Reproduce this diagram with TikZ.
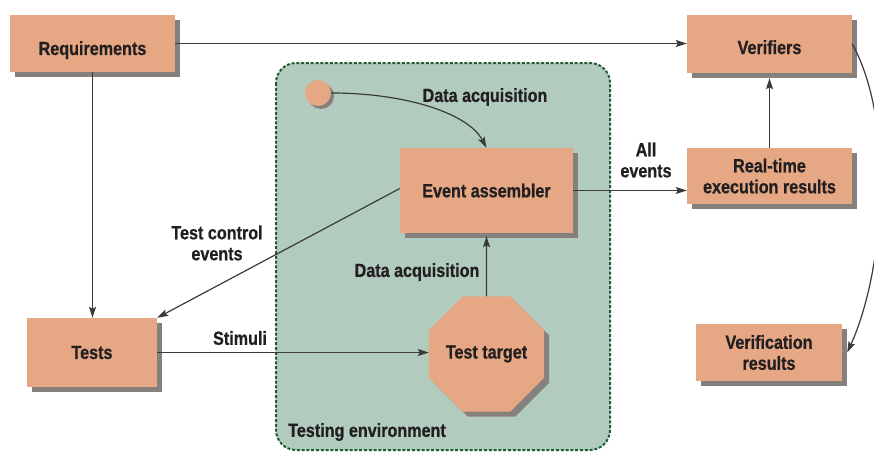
\documentclass[tikz,border=0pt]{standalone}
\usepackage{fontspec}
\setmainfont{Liberation Sans}[FakeStretch=0.85, FakeBold=0.7]
\usetikzlibrary{shapes.geometric,shadows,arrows.meta}

\definecolor{boxfill}{HTML}{E5A784}
\definecolor{envfill}{HTML}{B1CCBE}
\definecolor{envline}{HTML}{1F5C34}
\definecolor{shade}{HTML}{86807C}
\definecolor{ink}{HTML}{231F20}
\definecolor{wire}{HTML}{3A3A3A}

\newcommand{\lblfont}{\fontsize{19}{21}\selectfont\bfseries}

\tikzset{
  shadowed/.style={drop shadow={shadow xshift=5pt, shadow yshift=-5pt, fill=shade, opacity=1}},
  box/.style={rectangle, fill=boxfill, draw=none, inner sep=0pt, align=center,
              text=ink, font=\lblfont, shadowed},
  lbl/.style={text=ink, font=\lblfont, align=center, inner sep=0pt},
  wireline/.style={draw=wire, line width=1.2pt},
  arr/.style={wireline, -{Stealth[length=11pt, width=7pt, inset=2pt]}},
}

\begin{document}
\begin{tikzpicture}[x=1pt, y=-1pt]
  \useasboundingbox (0,0) rectangle (874,452);

  % testing environment frame
  \draw[envline, line width=2pt, dash pattern=on 3pt off 1.8pt, fill=envfill,
        rounded corners=20pt] (276,63) rectangle (610,450);
  \node[lbl, anchor=west] (envlbl) at (288,432) {Testing environment};

  % boxes
  \node[box, minimum width=165pt, minimum height=57pt, text height=27pt, text depth=4pt]
        (req)  at (92.5,43.5) {Requirements};
  \node[box, minimum width=165pt, minimum height=58pt, text height=24pt, text depth=4pt]
        (ver)  at (769.5,44)  {Verifiers};
  \node[box, minimum width=165pt, minimum height=56pt] (rt)   at (769.5,176) {Real-time\\execution results};
  \node[box, minimum width=146pt, minimum height=57pt] (vres) at (769,352.5) {Verification\\results};
  \node[box, minimum width=130pt, minimum height=69pt] (tests) at (92,352.5) {Tests};
  \node[box, minimum width=173pt, minimum height=85pt] (ea)   at (486.5,190.5) {Event assembler};
  \node[box, shape=regular polygon, regular polygon sides=8, minimum size=122pt]
        (tt) at (486.5,354) {Test target};
  \node[circle, fill=boxfill, minimum size=26pt, inner sep=0pt,
        drop shadow={shadow xshift=3pt, shadow yshift=-3pt, fill=shade, opacity=1}]
        (src) at (318,93) {};

  % connectors
  \draw[arr] (req.east) -- (req.east -| ver.west);
  \draw[arr] (req.south) -- (req.south |- tests.north);
  \draw[arr] ([yshift=2pt]ea.west) -- (tests.north east);
  \draw[arr] (tests.east) -- (tests.east -| tt.west);
  \draw[arr] (tt.north) -- ([yshift=-3pt]ea.south);
  \draw[arr] (src.east) .. controls (405,93) and (468,113) .. (ea.north);
  \draw[arr] (ea.east) -- (ea.east -| rt.west);
  \draw[arr] (rt.north) -- ([yshift=-5pt]rt.north |- ver.south);
  \coordinate (vresend) at ([xshift=5pt]vres.east);
  \draw[arr] (ver.east) .. controls (895,120) and (885,270) .. (vresend);

  % connector labels
  \node[lbl] (daq1) at (485,97) {Data acquisition};
  \node[lbl] (allev) at (646,160) {All\\events};
  \node[lbl] (tce) at (217,243) {Test control\\events};
  \node[lbl] (stim) at (240,338) {Stimuli};
  \node[lbl] (daq2) at (417,272) {Data acquisition};
\end{tikzpicture}
\end{document}
